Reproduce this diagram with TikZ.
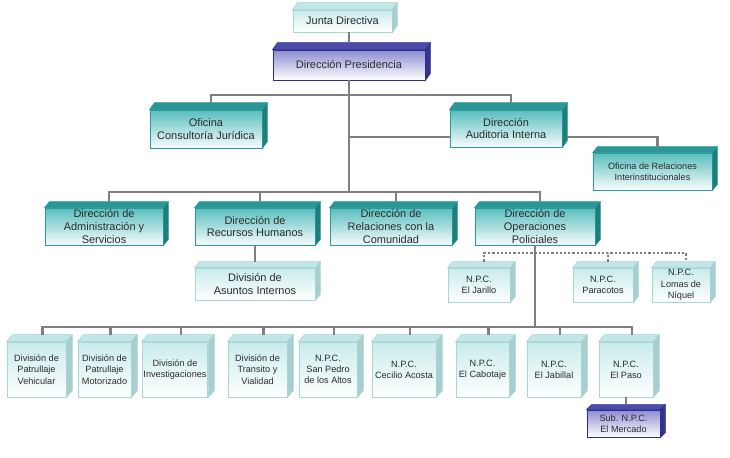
\documentclass[tikz,border=0pt]{standalone}
\usepackage{fontspec}
\setmainfont{Liberation Sans}
\usepackage{xcolor}
\usetikzlibrary{calc}

\definecolor{gris}{HTML}{7F7F7F}
\definecolor{texto}{HTML}{2B2B2B}
\definecolor{verdeborde}{HTML}{2A9A9A}
\definecolor{verdefrente}{HTML}{5ABEBE}
\definecolor{verdearriba}{HTML}{2C9696}
\definecolor{verdelado}{HTML}{1E7E7E}
\definecolor{palidaborde}{HTML}{A6D6D6}
\definecolor{palidafrente}{HTML}{C9EBEB}
\definecolor{palidaarriba}{HTML}{C2E5E5}
\definecolor{palidalado}{HTML}{A8CFCF}
\definecolor{azulborde}{HTML}{2E2E8C}
\definecolor{azulfrente}{HTML}{8C8CD2}
\definecolor{azularriba}{HTML}{4B4BAA}
\definecolor{azullado}{HTML}{34348F}

% caras superior y lateral de una caja: nombre, dx, dy, estilo arriba, estilo lado
\newcommand{\caras}[5]{%
  \filldraw[#4] (#1.north west) -- (#1.north east) -- ++(#2,-#3) -- ($(#1.north west)+(#2,-#3)$) -- cycle;
  \filldraw[#5] (#1.north east) -- ++(#2,-#3) -- ($(#1.south east)+(#2,-#3)$) -- (#1.south east) -- cycle;
  \coordinate (#1-t) at ($(#1.north)+(#2,-#3)$);
}

\begin{document}
\begin{tikzpicture}[x=0.025cm,y=-0.025cm]
    \tikzstyle{caja}=[draw,line width=0.6pt,align=center,text=texto,inner xsep=1pt,inner ysep=0pt]
    \tikzstyle{grande}=[font=\fontsize{7.8}{9.2}\selectfont]
    \tikzstyle{chica}=[font=\fontsize{6.5}{8}\selectfont]
    \tikzstyle{verde}=[caja,draw=verdeborde,top color=verdefrente,bottom color=white!95!verdefrente]
    \tikzstyle{palida}=[caja,draw=palidaborde,top color=palidafrente,bottom color=white]
    \tikzstyle{azul}=[caja,draw=azulborde,top color=azulfrente,bottom color=white]
    \tikzstyle{linea}=[draw=gris,line width=2.1pt]
    \tikzstyle{punteada}=[draw=gris,line width=1.6pt,dash pattern=on 1.6pt off 1.4pt]

    \useasboundingbox (0,0) rectangle (730,458);

    \node[palida,grande,minimum width=2.475cm,minimum height=0.55cm](junta) at (342.5,21){Junta Directiva};
    \node[azul,grande,minimum width=3.8cm,minimum height=0.75cm](pres) at (349,65){Direcci\'on Presidencia};

    \node[verde,grande,minimum width=2.8cm,minimum height=0.95cm](ofi) at (206,129){Oficina\\Consultor\'ia Jur\'idica};
    \node[verde,grande,minimum width=2.8cm,minimum height=0.925cm](audit) at (506,128.5){Direcci\'on\\Auditoria Interna};
    \node[verde,chica,minimum width=2.975cm,minimum height=0.925cm](relac) at (652.5,171.5){Oficina de Relaciones\\Interinstitucionales};

    \node[verde,grande,minimum width=2.95cm,minimum height=0.925cm](admin) at (104,226.5){Direcci\'on de\\Administraci\'on y\\Servicios};
    \node[verde,grande,minimum width=3cm,minimum height=0.925cm](rrhh) at (255,226.5){Direcci\'on de\\Recursos Humanos};
    \node[verde,grande,minimum width=3.05cm,minimum height=0.925cm](comun) at (391,226.5){Direcci\'on de\\Relaciones con la\\Comunidad};
    \node[verde,grande,minimum width=3cm,minimum height=0.925cm](oper) at (535,226.5){Direcci\'on de\\Operaciones\\Policiales};

    \node[palida,grande,minimum width=3cm,minimum height=0.8cm](asuntos) at (255,284){Divisi\'on de\\Asuntos Internos};
    \node[palida,chica,minimum width=1.55cm,minimum height=0.85cm](jarillo) at (479,285){N.P.C.\\El Jarillo};
    \node[palida,chica,minimum width=1.5cm,minimum height=0.85cm](paracotos) at (603,285){N.P.C.\\Paracotos};
    \node[palida,chica,minimum width=1.45cm,minimum height=0.85cm](lomas) at (681,285){N.P.C.\\Lomas de\\N\'iquel};

    \node[palida,chica,minimum width=1.475cm,minimum height=1.375cm](vehic) at (36.5,369.5){Divisi\'on de\\Patrullaje\\Vehicular};
    \node[palida,chica,minimum width=1.325cm,minimum height=1.375cm](motor) at (104.5,369.5){Divisi\'on de\\Patrullaje\\Motorizado};
    \node[palida,chica,minimum width=1.6cm,minimum height=1.375cm](invest) at (175,369.5){Divisi\'on de\\Investigaciones};
    \node[palida,chica,minimum width=1.475cm,minimum height=1.375cm](trans) at (257.5,369.5){Divisi\'on de\\Transito y\\Vialidad};
    \node[palida,chica,minimum width=1.45cm,minimum height=1.375cm](sanpedro) at (328,369.5){N.P.C.\\San Pedro\\de los Altos};
    \node[palida,chica,minimum width=1.6cm,minimum height=1.375cm](cecilio) at (404,369.5){N.P.C.\\Cecilio Acosta};
    \node[palida,chica,minimum width=1.325cm,minimum height=1.375cm](cabot) at (482.5,369.5){N.P.C.\\El Cabotaje};
    \node[palida,chica,minimum width=1.35cm,minimum height=1.375cm](jabil) at (554,369.5){N.P.C.\\El Jabillal};
    \node[palida,chica,minimum width=1.35cm,minimum height=1.375cm](paso) at (626,369.5){N.P.C.\\El Paso};

    \node[azul,chica,minimum width=1.825cm,minimum height=0.675cm](mercado) at (623.5,423.5){Sub. N.P.C.\\El Mercado};

    \caras{junta}{5}{7}{fill=palidaarriba,draw=palidaborde}{fill=palidalado,draw=palidaborde}
    \caras{pres}{5}{7}{fill=azularriba,draw=azulborde}{fill=azullado,draw=azulborde}
    \caras{ofi}{5}{7}{fill=verdearriba,draw=verdeborde}{fill=verdelado,draw=verdeborde}
    \caras{audit}{5}{7}{fill=verdearriba,draw=verdeborde}{fill=verdelado,draw=verdeborde}
    \caras{relac}{5}{6}{fill=verdearriba,draw=verdeborde}{fill=verdelado,draw=verdeborde}
    \caras{admin}{5}{6}{fill=verdearriba,draw=verdeborde}{fill=verdelado,draw=verdeborde}
    \caras{rrhh}{5}{6}{fill=verdearriba,draw=verdeborde}{fill=verdelado,draw=verdeborde}
    \caras{comun}{5}{6}{fill=verdearriba,draw=verdeborde}{fill=verdelado,draw=verdeborde}
    \caras{oper}{5}{6}{fill=verdearriba,draw=verdeborde}{fill=verdelado,draw=verdeborde}
    \caras{asuntos}{5}{6}{fill=palidaarriba,draw=palidaborde}{fill=palidalado,draw=palidaborde}
    \caras{jarillo}{5}{6}{fill=palidaarriba,draw=palidaborde}{fill=palidalado,draw=palidaborde}
    \caras{paracotos}{5}{6}{fill=palidaarriba,draw=palidaborde}{fill=palidalado,draw=palidaborde}
    \caras{lomas}{5}{6}{fill=palidaarriba,draw=palidaborde}{fill=palidalado,draw=palidaborde}
    \caras{vehic}{6}{7}{fill=palidaarriba,draw=palidaborde}{fill=palidalado,draw=palidaborde}
    \caras{motor}{6}{7}{fill=palidaarriba,draw=palidaborde}{fill=palidalado,draw=palidaborde}
    \caras{invest}{6}{7}{fill=palidaarriba,draw=palidaborde}{fill=palidalado,draw=palidaborde}
    \caras{trans}{6}{7}{fill=palidaarriba,draw=palidaborde}{fill=palidalado,draw=palidaborde}
    \caras{sanpedro}{6}{7}{fill=palidaarriba,draw=palidaborde}{fill=palidalado,draw=palidaborde}
    \caras{cecilio}{6}{7}{fill=palidaarriba,draw=palidaborde}{fill=palidalado,draw=palidaborde}
    \caras{cabot}{6}{7}{fill=palidaarriba,draw=palidaborde}{fill=palidalado,draw=palidaborde}
    \caras{jabil}{6}{7}{fill=palidaarriba,draw=palidaborde}{fill=palidalado,draw=palidaborde}
    \caras{paso}{6}{7}{fill=palidaarriba,draw=palidaborde}{fill=palidalado,draw=palidaborde}
    \caras{mercado}{5}{5}{fill=azularriba,draw=azulborde}{fill=azullado,draw=azulborde}

    \coordinate (b1) at (349,95);
    \coordinate (b2) at (349,137);
    \coordinate (b3) at (349,192);
    \coordinate (b4) at (535,253);
    \coordinate (b5) at (535,327);

    \draw[linea] (junta.south -| pres.north) -- (pres.north |- pres-t);
    \draw[linea] (pres.south) -- (b3);
    \draw[linea] (ofi-t) |- (b1) -| (audit-t);
    \draw[linea] (b2) -- (b2 -| audit.west);
    \draw[linea] ($(b2 -| audit.east)+(5,0)$) -| (relac-t);

    \draw[linea] (admin-t) |- (b3) -| (oper-t);
    \draw[linea] (rrhh-t) -- (rrhh-t |- b3);
    \draw[linea] (comun-t) -- (comun-t |- b3);
    \draw[linea] (rrhh.south) -- (rrhh.south |- asuntos-t);

    \draw[linea] (oper.south) -- (b5);
    \draw[punteada] (jarillo-t) |- (b4) -| (lomas-t);
    \draw[punteada] (paracotos-t) -- (paracotos-t |- b4);

    \draw[linea] (vehic-t) |- (b5) -| (paso-t);
    \draw[linea] (motor-t) -- (motor-t |- b5);
    \draw[linea] (invest-t) -- (invest-t |- b5);
    \draw[linea] (trans-t) -- (trans-t |- b5);
    \draw[linea] (sanpedro-t) -- (sanpedro-t |- b5);
    \draw[linea] (cecilio-t) -- (cecilio-t |- b5);
    \draw[linea] (cabot-t) -- (cabot-t |- b5);
    \draw[linea] (jabil-t) -- (jabil-t |- b5);
    \draw[linea] (paso.south) -- (paso.south |- mercado-t);
\end{tikzpicture}
\end{document}
